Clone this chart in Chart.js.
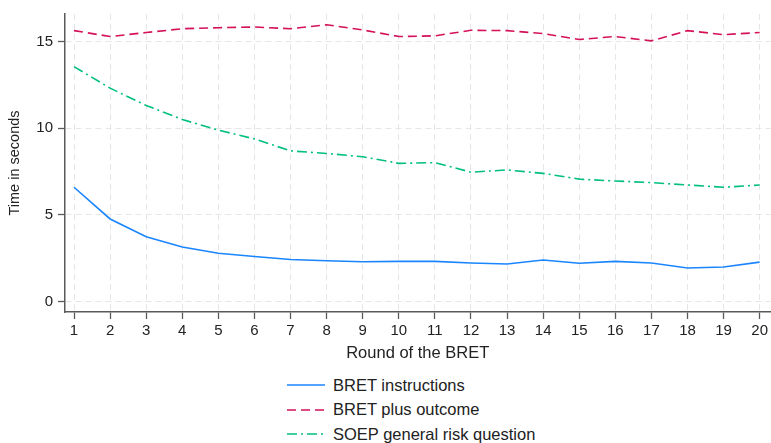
<!DOCTYPE html>
<html>
<head>
<meta charset="utf-8">
<script src="https://cdn.jsdelivr.net/npm/chart.js@4.4.1/dist/chart.umd.min.js"></script>
<style>
  body { margin: 0; background: #fff; font-family: "Liberation Sans", Arial, sans-serif; }
  #wrap { position: relative; width: 771px; height: 443px; }
  #legend { position: absolute; left: 287px; top: 373px; font-size: 16.5px; color: #222; }
  .row { display: flex; align-items: center; height: 24.5px; }
  .row svg { width: 38px; height: 6px; margin-right: 8px; }
</style>
</head>
<body>
<div id="wrap">
  <canvas id="chart" width="771" height="365"></canvas>
  <div id="legend"></div>
</div>
<script>
// Datos
const rounds = [1,2,3,4,5,6,7,8,9,10,11,12,13,14,15,16,17,18,19,20];
const instrucciones = [6.6,4.77,3.74,3.15,2.79,2.6,2.43,2.36,2.3,2.32,2.32,2.23,2.17,2.4,2.21,2.32,2.23,1.94,2.0,2.28];
const outcome = [15.64,15.3,15.53,15.75,15.81,15.85,15.75,15.98,15.68,15.3,15.34,15.66,15.64,15.47,15.13,15.3,15.05,15.64,15.41,15.53];
const soep = [13.56,12.32,11.32,10.51,9.9,9.39,8.7,8.55,8.36,7.98,8.02,7.47,7.6,7.4,7.07,6.96,6.87,6.73,6.6,6.73];
const xTicks = rounds;
const yTicks = [0,5,10,15];

const series = [
  { label: 'BRET instructions', values: instrucciones, color: '#1a85ff', dash: [] },
  { label: 'BRET plus outcome', values: outcome, color: '#d41159', dash: [9,5] },
  { label: 'SOEP general risk question', values: soep, color: '#00bf7f', dash: [10,4,2,4] }
];

const FAMILY = '"Liberation Sans", Arial, sans-serif';
const tickFont = { family: FAMILY, size: 15 };
const axisColor = '#5a5a5a';
const gridColor = '#e6e6e6';

const datasets = series.map(s => ({
  label: s.label,
  data: rounds.map((r, i) => ({ x: r, y: s.values[i] })),
  borderColor: s.color,
  borderWidth: 1.6,
  borderDash: s.dash,
  pointRadius: 0,
  tension: 0,
  fill: false
}));

new Chart(document.getElementById('chart').getContext('2d'), {
  type: 'line',
  data: { datasets },
  options: {
    responsive: false,
    animation: false,
    layout: { padding: { top: 8, right: 0, left: 0, bottom: 0 } },
    plugins: { legend: { display: false }, tooltip: { enabled: false } },
    scales: {
      x: {
        type: 'linear',
        min: 0.75, max: 20.3,
        afterBuildTicks: (axis) => { axis.ticks = xTicks.map(v => ({ value: v })); },
        afterFit: (axis) => { axis.height = 53; },
        ticks: { color: '#222', font: tickFont, padding: 3, autoSkip: false, maxRotation: 0 },
        grid: { color: gridColor, lineWidth: 1, tickLength: 7, tickColor: axisColor, tickWidth: 1.3, tickBorderDash: [] },
        border: { display: true, color: axisColor, width: 1.5, dash: [6,4] },
        title: { display: true, text: 'Round of the BRET', color: '#222', font: { family: FAMILY, size: 16.5 }, padding: { top: 0, bottom: 2 } }
      },
      y: {
        min: -0.6, max: 16.6,
        afterBuildTicks: (axis) => { axis.ticks = yTicks.map(v => ({ value: v })); },
        afterFit: (axis) => { axis.width = 65; },
        ticks: { color: '#222', font: tickFont, padding: 5 },
        grid: { color: gridColor, lineWidth: 1, tickLength: 7, tickColor: axisColor, tickWidth: 1.3, tickBorderDash: [] },
        border: { display: true, color: axisColor, width: 1.5, dash: [6,4] },
        title: { display: true, text: 'Time in seconds', color: '#222', font: { family: FAMILY, size: 14.5 }, padding: { top: 6, bottom: 0 } }
      }
    }
  }
});

// Leyenda vertical en HTML
const legend = document.getElementById('legend');
series.forEach(s => {
  const row = document.createElement('div');
  row.className = 'row';
  row.innerHTML = `
    <svg viewBox="0 0 38 6"><line x1="0" y1="3" x2="38" y2="3" stroke="${s.color}" stroke-width="1.6" stroke-dasharray="${s.dash.join(' ')}"/></svg>
    <span>${s.label}</span>`;
  legend.appendChild(row);
});
</script>
</body>
</html>
